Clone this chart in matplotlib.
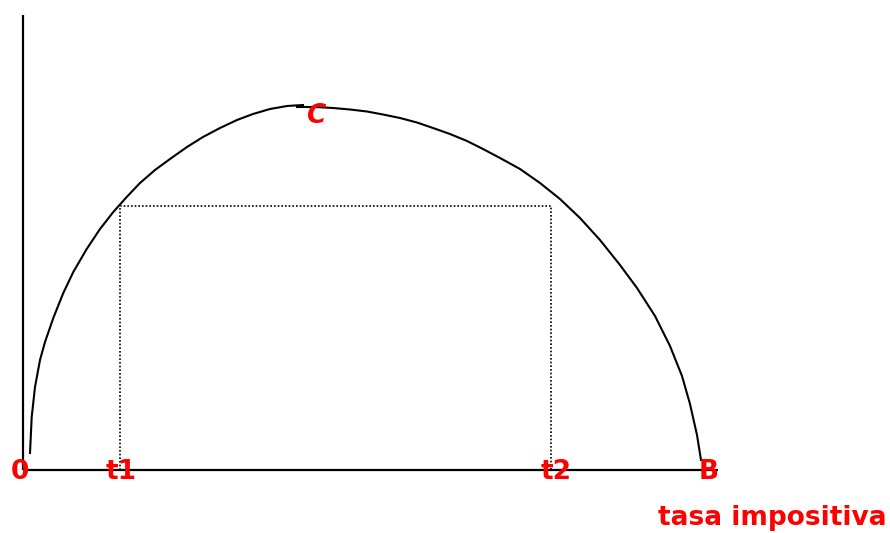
import matplotlib
matplotlib.use("Agg")
import matplotlib.pyplot as plt

# Laffer curve (x = tax rate, y = revenue, pixel-ish units)
left_x = [30, 31.7, 35, 40, 45, 53.3, 63.3, 73.3, 86.7, 100, 113.3, 126.7, 140,
          155, 170, 187, 203, 220, 237, 253, 270, 287, 303]
left_y = [17, 53, 83, 110, 128, 152, 177, 198, 221, 241, 258, 273, 287,
          300, 311, 323, 333, 342, 350, 356, 361, 364, 365]
right_x = [297, 315, 333, 350, 367, 383, 400, 417, 433, 450, 467, 483, 500, 520,
           540, 560, 580, 600, 620, 637, 655, 670, 682, 690, 697, 701]
right_y = [363, 363, 362, 360.5, 358.5, 355.5, 352, 347.5, 342, 336, 329, 321, 312, 301,
           287, 271, 252, 230, 205, 182, 154, 124, 94, 66, 35, 10]

# dotted rectangle between t1 and t2
rate_t1 = 120
rate_t2 = 551
rect_revenue = 264

point_labels = ["0", "t1", "t2", "B"]
point_x = [20, 121, 556, 709]
axis_end = 718
y_top = 455

fig = plt.figure(figsize=(8.9, 5.33), dpi=100)
ax = fig.add_axes([0, 0, 1, 1])
ax.set_xlim(0, 890)
ax.set_ylim(-63, 470)
ax.axis("off")

# axes
ax.plot([23, 23], [0, y_top], color="black", lw=1.6, solid_capstyle="butt")
ax.plot([23, axis_end], [0, 0], color="black", lw=1.6, solid_capstyle="butt")

# curve
ax.plot(left_x, left_y, color="black", lw=1.5, solid_joinstyle="round")
ax.plot(right_x, right_y, color="black", lw=1.5, solid_joinstyle="round")

# dotted rectangle
ax.plot([rate_t1, rate_t1, rate_t2, rate_t2], [0, rect_revenue, rect_revenue, 0],
        color="black", lw=1.2, linestyle=(0, (1, 1.2)))

font = dict(color="red", fontweight="bold", fontsize=19, ha="center", va="center")
for lab, x in zip(point_labels, point_x):
    ax.text(x, -2, lab, **font)
ax.text(316, 354, "C", fontstyle="italic", **font)
ax.text(772, -48, "tasa impositiva", **font)

fig.savefig("out.png", dpi=100)
